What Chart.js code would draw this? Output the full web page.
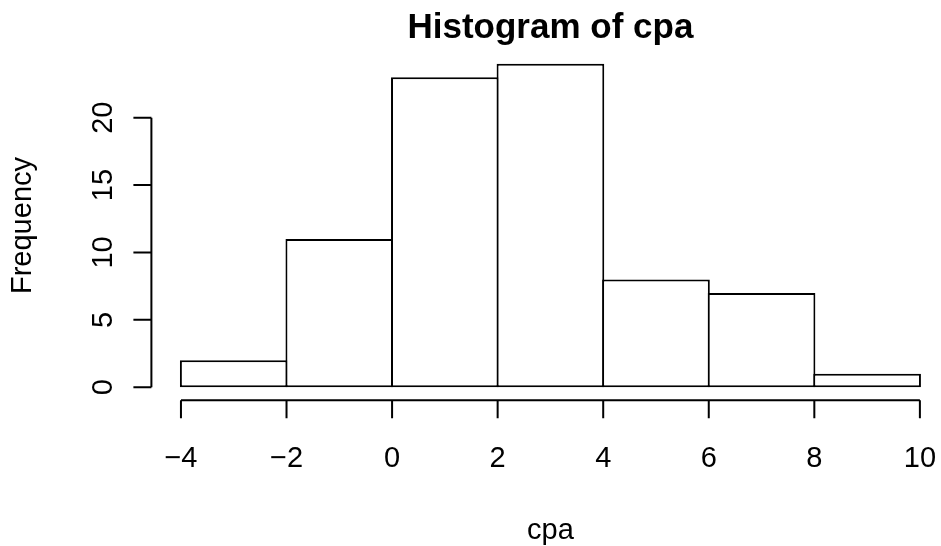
<!DOCTYPE html>
<html>
<head>
<meta charset="utf-8">
<script src="https://cdn.jsdelivr.net/npm/chart.js@4"></script>
<style>
  html, body { margin: 0; padding: 0; background: #fff; }
  canvas { display: block; }
</style>
</head>
<body>
<canvas id="hist" width="941" height="546"></canvas>
<script>
// bin edges and counts for hist(cpa)
var breaks = [-4, -2, 0, 2, 4, 6, 8, 10];
var counts = [2, 11, 23, 24, 8, 7, 1];
var yTicks = [0, 5, 10, 15, 20];
var xTicks = [-4, -2, 0, 2, 4, 6, 8, 10];

var titleText = 'Histogram of cpa';
var xLabel = 'cpa';
var yLabel = 'Frequency';

var FONT = '"Liberation Sans", Arial, Helvetica, sans-serif';

// bar centres from the break points
var points = counts.map(function (c, i) {
    return { x: (breaks[i] + breaks[i + 1]) / 2, y: c };
});

function fmt(v) {
    return v < 0 ? '\u2212' + Math.abs(v) : String(v);
}

// base-graphics style axes, labels and title
var rAxes = {
    id: 'rAxes',
    afterDraw: function (chart) {
        var ctx = chart.ctx;
        var xs = chart.scales.x, ys = chart.scales.y;
        var area = chart.chartArea;
        ctx.save();
        ctx.strokeStyle = '#000';
        ctx.fillStyle = '#000';
        ctx.lineWidth = 2;

        // y axis on the left edge of the plot region
        var ax = area.left;
        var y0 = ys.getPixelForValue(yTicks[0]);
        var y1 = ys.getPixelForValue(yTicks[yTicks.length - 1]);
        ctx.beginPath();
        ctx.moveTo(ax, y0);
        ctx.lineTo(ax, y1);
        yTicks.forEach(function (v) {
            var py = ys.getPixelForValue(v);
            ctx.moveTo(ax - 18, py);
            ctx.lineTo(ax, py);
        });
        ctx.stroke();

        ctx.font = '29px ' + FONT;
        ctx.textAlign = 'center';
        ctx.textBaseline = 'alphabetic';
        yTicks.forEach(function (v) {
            var py = ys.getPixelForValue(v);
            ctx.save();
            ctx.translate(112, py);
            ctx.rotate(-Math.PI / 2);
            ctx.fillText(fmt(v), 0, 0);
            ctx.restore();
        });

        // x axis along the bottom edge
        var ay = area.bottom;
        ctx.beginPath();
        ctx.moveTo(xs.getPixelForValue(xTicks[0]), ay);
        ctx.lineTo(xs.getPixelForValue(xTicks[xTicks.length - 1]), ay);
        xTicks.forEach(function (v) {
            var px = xs.getPixelForValue(v);
            ctx.moveTo(px, ay);
            ctx.lineTo(px, ay + 18);
        });
        ctx.stroke();

        xTicks.forEach(function (v) {
            ctx.fillText(fmt(v), xs.getPixelForValue(v), 467);
        });

        // axis titles, centred on the full plot region
        var midX = (xs.getPixelForValue(-4.56) + xs.getPixelForValue(10.56)) / 2;
        ctx.fillText(xLabel, midX, 539);
        ctx.save();
        ctx.translate(31, (area.top + area.bottom) / 2);
        ctx.rotate(-Math.PI / 2);
        ctx.fillText(yLabel, 0, 0);
        ctx.restore();

        // main title
        ctx.font = 'bold 35px ' + FONT;
        ctx.fillText(titleText, midX, 38);
        ctx.restore();
    }
};

new Chart(document.getElementById('hist'), {
    type: 'bar',
    data: {
        datasets: [{
            data: points,
            backgroundColor: '#ffffff',
            borderColor: '#000000',
            borderWidth: 2,
            borderSkipped: false,
            inflateAmount: 0,
            barPercentage: 1.02,
            categoryPercentage: 1
        }]
    },
    options: {
        responsive: false,
        animation: false,
        devicePixelRatio: 1,
        layout: {
            padding: { left: 151.4, top: 50.8, right: 0, bottom: 546 - 400.2 }
        },
        scales: {
            x: {
                type: 'linear',
                min: -4.56,
                max: 10.4,
                offset: false,
                grace: 0,
                display: false,
                ticks: { stepSize: 20 }
            },
            y: {
                min: -0.96,
                max: 24.96,
                display: false,
                ticks: { stepSize: 50 }
            }
        },
        plugins: {
            legend: { display: false },
            tooltip: { enabled: false }
        }
    },
    plugins: [rAxes]
});
</script>
</body>
</html>
